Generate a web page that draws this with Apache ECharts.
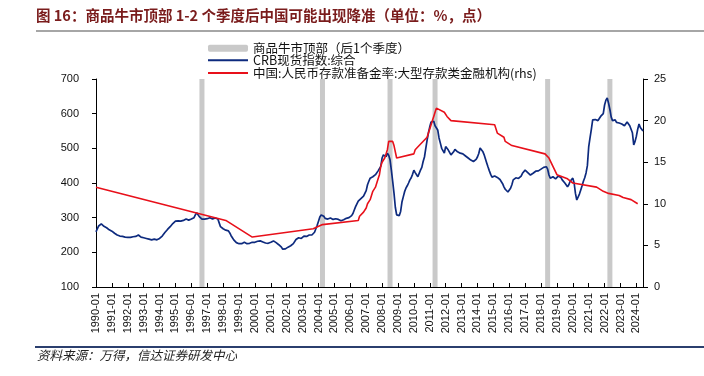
<!DOCTYPE html>
<html><head><meta charset="utf-8">
<script src="https://cdn.jsdelivr.net/npm/echarts@6/dist/echarts.min.js"></script>
<style>html,body{margin:0;padding:0;background:#fff}#c{width:704px;height:376px}</style>
</head><body><div id="c"></div>
<script>
// ---------- DATA ----------
const firstYear = 1990, lastYear = 2024, lastMonth = 6;

// CRB spot index (monthly)
const crb1990s = [
  259,268,276,281,282,279,275,273,271,268,265,263, // 1990
  261,258,255,253,250,248,247,246,246,245,244,244, // 1991
  243,242,243,244,245,244,246,248,250,247,244,243, // 1992
  242,241,240,239,238,237,236,237,238,237,236,238, // 1993
  240,243,247,251,257,262,266,270,274,278,283,287, // 1994
  290,289,291,293,290,289,292,294,296,295,293,294, // 1995
  296,295,300,308,314,311,303,300,296,294,296,295, // 1996
  297,298,300,297,296,298,299,297,296,285,274,273, // 1997
  268,266,264,265,262,256,248,242,236,232,228,226, // 1998
  225,224,225,227,229,227,225,224,226,228,229,228  // 1999
];
const crb2000s = [
  229,231,232,230,233,232,230,229,227,228,226,225, // 2000
  229,232,233,231,228,225,222,219,215,209,206,210, // 2001
  213,215,217,219,220,225,230,237,240,242,241,240, // 2002
  244,247,248,246,249,250,252,250,252,258,268,278, // 2003
  290,302,308,310,304,298,297,296,297,299,296,295, // 2004
  296,297,298,295,293,291,292,294,296,298,300,300, // 2005
  302,306,312,322,332,340,348,352,355,358,362,366, // 2006
  378,395,405,414,417,418,420,424,429,435,440,448, // 2007
  472,481,478,476,486,480,467,437,405,371,330,308, // 2008
  305,306,318,345,360,375,385,392,400,409,415,425  // 2009
];
const crb2010s = [
  437,430,425,418,420,437,445,462,475,500,524,545, // 2010
  562,576,572,578,565,560,553,530,515,500,495,486, // 2011
  505,500,495,490,481,478,490,497,495,490,488,486, // 2012
  486,484,480,478,475,472,468,466,465,462,464,468, // 2013
  475,485,501,498,491,482,470,458,446,435,425,417, // 2014
  418,420,418,416,414,410,405,398,389,382,378,374, // 2015
  376,385,395,409,412,415,414,413,414,420,428,432, // 2016
  437,435,430,425,423,424,428,432,434,437,435,436, // 2017
  440,443,445,446,447,440,423,414,414,418,415,412, // 2018
  415,420,418,416,409,405,400,395,389,395,405,409  // 2019
];
const crb2020s = [
  414,400,370,351,355,368,380,392,405,415,429,450, // 2020
  504,530,555,582,585,583,582,580,586,592,590,600, // 2021
  625,639,645,630,612,590,580,578,582,575,572,573, // 2022
  573,570,568,565,570,576,572,565,560,545,510,520, // 2023
  535,555,570,560,555,550                          // 2024
];

// RRR, large depository institutions (%), change points
const rrrPoints = [
  ['1990-01',12.0],['1998-03',8.0],['1999-11',6.0],['2003-09',7.0],['2004-04',7.5],
  ['2006-07',8.0],['2006-08',8.5],['2006-11',9.0],['2007-01',9.5],['2007-02',10.0],
  ['2007-04',10.5],['2007-05',11.0],['2007-06',11.5],['2007-08',12.0],['2007-09',12.5],
  ['2007-10',13.0],['2007-11',13.5],['2007-12',14.5],['2008-01',15.0],['2008-03',15.5],
  ['2008-04',16.0],['2008-05',16.5],['2008-06',17.5],['2008-09',17.5],['2008-10',17.0],
  ['2008-12',15.5],['2010-01',16.0],['2010-02',16.5],['2010-05',17.0],['2010-11',18.0],
  ['2010-12',18.5],['2011-01',19.0],['2011-02',19.5],['2011-03',20.0],['2011-04',20.5],
  ['2011-05',21.0],['2011-06',21.5],['2011-12',21.0],['2012-02',20.5],['2012-05',20.0],
  ['2015-02',19.5],['2015-04',18.5],['2015-09',18.0],['2015-10',17.5],['2016-03',17.0],
  ['2018-04',16.0],['2018-07',15.5],['2018-10',14.5],['2019-01',13.5],['2019-09',13.0],
  ['2020-01',12.5],['2021-07',12.0],['2021-12',11.5],['2022-04',11.25],['2022-12',11.0],
  ['2023-03',10.75],['2023-09',10.5],['2024-02',10.0]
];

// commodity bull-market tops (+1 quarter)
const bullTops = ['1996-09','2004-04','2008-07','2011-05','2018-06','2022-05'];

const leftAxisTicks = {min:100, max:700, step:100};
const rightAxisTicks = {min:0, max:25, step:5};

const seriesNames = ['商品牛市顶部（后1个季度）','CRB现货指数:综合','中国:人民币存款准备金率:大型存款类金融机构(rhs)'];
const titleText = '图 16：商品牛市顶部 1-2 个季度后中国可能出现降准（单位：%，点）';
const sourceText = '资料来源：万得，信达证券研发中心';

// ---------- BUILD ----------
const months = [];
for (let y = firstYear; y <= lastYear; y++) {
  for (let m = 1; m <= 12; m++) {
    if (y === lastYear && m > lastMonth) break;
    months.push(y + '-' + (m < 10 ? '0' + m : m));
  }
}
const crb = crb1990s.concat(crb2000s, crb2010s, crb2020s);
const rrrMap = {}; rrrPoints.forEach(p => rrrMap[p[0]] = p[1]);
const rrr = months.map(m => (m in rrrMap ? rrrMap[m] : null));
const bars = months.map(m => (bullTops.indexOf(m) >= 0 ? leftAxisTicks.max : null));

const yearTick = (i) => i % 12 === 0;
const numFont = 'Liberation Sans';
const cjkFont = 'Noto Sans CJK SC';
const legendText = {fontSize: 12.5, lineHeight: 12.4, color: '#111', fontFamily: cjkFont};

const chart = echarts.init(document.getElementById('c'), null, {renderer:'canvas'});
chart.setOption({
  animation: false,
  backgroundColor: '#fff',
  grid: {left: 96, right: 61, top: 79, bottom: 89, containLabel: false},
  legend: [{
    orient: 'vertical', left: 203, top: 37, itemWidth: 40, itemHeight: 7, itemGap: 0,
    textStyle: legendText, data: [seriesNames[0]]
  }, {
    orient: 'vertical', left: 203, top: 49, itemWidth: 40, itemHeight: 2, itemGap: 0.2,
    icon: 'rect', textStyle: legendText, data: [seriesNames[1], seriesNames[2]]
  }],
  xAxis: {
    type: 'category', data: months, boundaryGap: false,
    axisLine: {lineStyle: {color: '#000', width: 1}},
    axisTick: {inside: true, length: 4, interval: yearTick, lineStyle: {color: '#000'}},
    axisLabel: {rotate: 90, interval: yearTick, fontSize: 11, color: '#111', margin: 6, fontFamily: numFont},
    splitLine: {show: false}
  },
  yAxis: [{
    type: 'value', min: leftAxisTicks.min, max: leftAxisTicks.max, interval: leftAxisTicks.step,
    axisLine: {show: true, lineStyle: {color: '#000'}},
    axisTick: {show: true, length: 4, lineStyle: {color: '#000'}},
    axisLabel: {fontSize: 11, color: '#111', margin: 17, fontFamily: numFont},
    splitLine: {show: false}
  }, {
    type: 'value', position: 'right', min: rightAxisTicks.min, max: rightAxisTicks.max, interval: rightAxisTicks.step,
    axisLine: {show: true, lineStyle: {color: '#000'}},
    axisTick: {show: true, length: 5, lineStyle: {color: '#000'}},
    axisLabel: {fontSize: 11, color: '#111', margin: 11, fontFamily: numFont},
    splitLine: {show: false}
  }],
  series: [{
    name: seriesNames[0], type: 'bar', yAxisIndex: 0, data: bars, barWidth: 5,
    itemStyle: {color: '#C9C9C9'}, z: 1
  }, {
    name: seriesNames[1], type: 'line', yAxisIndex: 0, data: crb, symbol: 'none', showSymbol: false,
    lineStyle: {color: '#0D2A7E', width: 1.7}, itemStyle: {color: '#0D2A7E'}, z: 3
  }, {
    name: seriesNames[2], type: 'line', yAxisIndex: 1, data: rrr, connectNulls: true, symbol: 'none', showSymbol: false,
    lineStyle: {color: '#E8101A', width: 1.6}, itemStyle: {color: '#E8101A'}, z: 4
  }],
  graphic: [
    {type: 'text', left: 36, top: 8, style: {text: titleText, fontSize: 14.5, fontWeight: 'bold', fill: '#7A1C1C', fontFamily: cjkFont}},
    {type: 'line', shape: {x1: 36, y1: 31, x2: 704, y2: 31}, style: {stroke: '#A6A6A6', lineWidth: 2}},
    {type: 'line', shape: {x1: 35, y1: 347, x2: 704, y2: 347}, style: {stroke: '#2B3F6E', lineWidth: 2}},
    {type: 'text', left: 37, top: 349, style: {text: sourceText, fontSize: 12.5, fontStyle: 'italic', fill: '#222', fontFamily: cjkFont}}
  ]
});
</script>
</body></html>
